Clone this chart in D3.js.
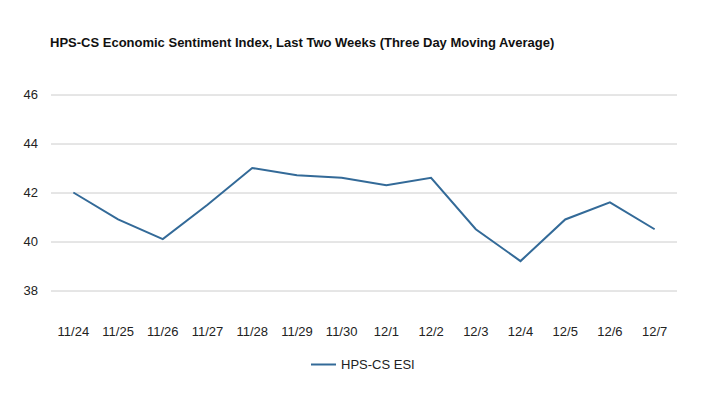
<!DOCTYPE html>
<html>
<head>
<meta charset="utf-8">
<script src="https://cdn.jsdelivr.net/npm/d3@7"></script>
<style>
  body { margin: 0; background: #fff; }
  text { font-family: "Liberation Sans", Arial, sans-serif; }
</style>
</head>
<body>
<div id="chart"></div>
<script>
// dates and three day moving average values
var days = ["11/24", "11/25", "11/26", "11/27", "11/28", "11/29", "11/30",
            "12/1", "12/2", "12/3", "12/4", "12/5", "12/6", "12/7"];
var esi = [42.0, 40.9, 40.1, 41.5, 43.0, 42.7, 42.6,
           42.3, 42.6, 40.5, 39.2, 40.9, 41.6, 40.5];
var yTicks = [38, 40, 42, 44, 46];
var seriesName = "HPS-CS ESI";
var chartTitle = "HPS-CS Economic Sentiment Index, Last Two Weeks (Three Day Moving Average)";

var svgWidth = 707;
var svgHeight = 397;
var margin = { top: 70, right: 30, bottom: 82, left: 51 };
var chartWidth = svgWidth - margin.left - margin.right;
var chartHeight = svgHeight - margin.top - margin.bottom;

var svg = d3.select("#chart").append("svg")
    .attr("width", svgWidth)
    .attr("height", svgHeight);

svg.append("text")
    .attr("x", 50)
    .attr("y", 47)
    .attr("font-size", 13)
    .attr("font-weight", "bold")
    .attr("fill", "#111")
    .text(chartTitle);

var chartGroup = svg.append("g")
    .attr("transform", `translate(${margin.left}, ${margin.top})`);

var xScale = d3.scaleBand()
    .domain(days)
    .range([0, chartWidth]);

var yScale = d3.scaleLinear()
    .domain([37.0, 47.0])
    .range([chartHeight, 0]);

// gridlines + y labels
var yAxis = d3.axisLeft(yScale)
    .tickValues(yTicks)
    .tickSize(-chartWidth)
    .tickPadding(13);

chartGroup.append("g")
    .call(yAxis)
    .call(g => g.select(".domain").remove())
    .call(g => g.selectAll(".tick line").attr("stroke", "#cccccc"))
    .call(g => g.selectAll(".tick text")
        .attr("font-size", 13)
        .attr("fill", "#222")
        .attr("font-family", "'Liberation Sans', Arial, sans-serif"));

// x labels
var xAxis = d3.axisBottom(xScale).tickSize(0).tickPadding(12);

chartGroup.append("g")
    .attr("transform", `translate(0, ${chartHeight})`)
    .call(xAxis)
    .call(g => g.select(".domain").remove())
    .call(g => g.selectAll(".tick text")
        .attr("font-size", 13)
        .attr("fill", "#222")
        .attr("font-family", "'Liberation Sans', Arial, sans-serif"));

var line = d3.line()
    .x((d, i) => xScale(days[i]) + xScale.bandwidth() / 2)
    .y(d => yScale(d));

chartGroup.append("path")
    .datum(esi)
    .attr("fill", "none")
    .attr("stroke", "#336a98")
    .attr("stroke-width", 2)
    .attr("d", line);

// legend
var legend = svg.append("g")
    .attr("transform", "translate(311, 364.5)");

legend.append("line")
    .attr("x1", 0)
    .attr("x2", 25)
    .attr("y1", 0)
    .attr("y2", 0)
    .attr("stroke", "#336a98")
    .attr("stroke-width", 2);

legend.append("text")
    .attr("x", 30)
    .attr("y", 4.5)
    .attr("font-size", 13)
    .attr("fill", "#222")
    .text(seriesName);
</script>
</body>
</html>
